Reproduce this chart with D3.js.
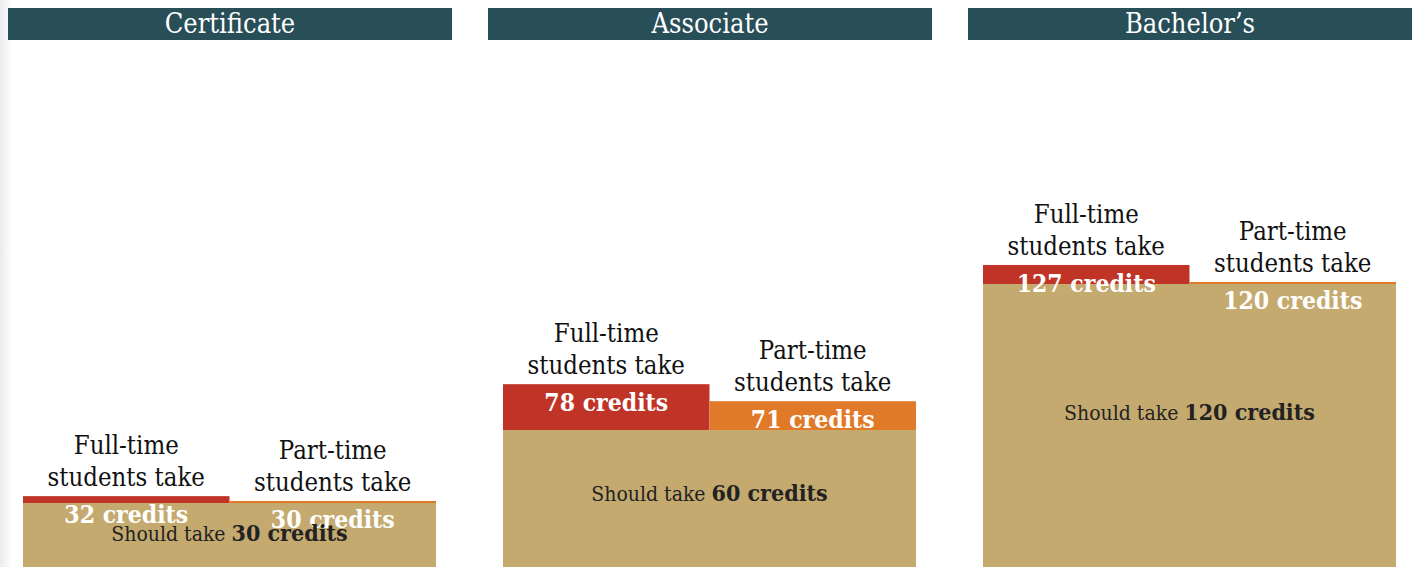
<!DOCTYPE html>
<html>
<head>
<meta charset="utf-8">
<script src="https://cdn.jsdelivr.net/npm/d3@7"></script>
<style>
  html, body { margin: 0; padding: 0; background: #fff; }
  svg { display: block; font-family: "DejaVu Serif Condensed", "DejaVu Serif", serif; }
</style>
</head>
<body>
<svg id="chart" width="1416" height="567"></svg>
<script>
// data
const degrees = ["Certificate", "Associate", "Bachelor’s"];
const shouldTake = [30, 60, 120];
const fullTime = [32, 78, 127];
const partTime = [30, 71, 120];
const groups = ["Full-time", "Part-time"];

const colors = { "Full-time": "#bf3426", "Part-time": "#e07a28", base: "#c4aa6f", header: "#284e58" };

const svg = d3.select("#chart");

// faint grey edge on the left
const grad = svg.append("defs").append("linearGradient").attr("id", "edge");
grad.append("stop").attr("offset", "0%").attr("stop-color", "#e9ecef");
grad.append("stop").attr("offset", "100%").attr("stop-color", "#fff");
svg.append("rect").attr("x", 0).attr("y", 0).attr("width", 12).attr("height", 567).attr("fill", "url(#edge)");

const x = d3.scaleBand().domain(degrees).range([8, 1412]).paddingInner(0.075);
const inner = d3.scaleBand().domain(groups).range([15, 428]);
const y = d3.scaleLinear().domain([0, 120]).range([574, 282]);

const rows = degrees.map((d, i) => ({
  degree: d,
  should: shouldTake[i],
  bars: [
    { group: "Full-time", value: fullTime[i] },
    { group: "Part-time", value: partTime[i] }
  ]
}));

const panel = svg.selectAll(".panel")
  .data(rows)
  .enter()
  .append("g")
  .attr("class", "panel")
  .attr("transform", d => `translate(${x(d.degree)},0)`);

// header
panel.append("rect")
  .attr("x", 0).attr("y", 8)
  .attr("width", x.bandwidth()).attr("height", 32)
  .attr("fill", colors.header);
panel.append("text")
  .attr("x", x.bandwidth() / 2).attr("y", 33)
  .attr("text-anchor", "middle")
  .attr("fill", "#fff")
  .attr("font-size", 27)
  .text(d => d.degree);

// full-time / part-time bars
panel.selectAll(".bar")
  .data(d => d.bars)
  .enter()
  .append("rect")
  .attr("class", "bar")
  .attr("x", d => inner(d.group))
  .attr("width", inner.bandwidth())
  .attr("y", d => y(d.value))
  .attr("height", d => y(0) - y(d.value))
  .attr("fill", d => colors[d.group]);

// base "should take" block
panel.append("rect")
  .attr("x", inner(groups[0]))
  .attr("width", inner.range()[1] - inner.range()[0])
  .attr("y", d => y(d.should) + 2)
  .attr("height", d => y(0) - y(d.should))
  .attr("fill", colors.base);

// labels above bars
const lab = panel.selectAll(".lab")
  .data(d => d.bars)
  .enter()
  .append("text")
  .attr("class", "lab")
  .attr("text-anchor", "middle")
  .attr("font-size", 25.5)
  .attr("fill", "#111");
lab.append("tspan")
  .attr("x", d => inner(d.group) + inner.bandwidth() / 2)
  .attr("y", d => y(d.value) - 42)
  .text(d => d.group);
lab.append("tspan")
  .attr("x", d => inner(d.group) + inner.bandwidth() / 2)
  .attr("y", d => y(d.value) - 10)
  .text("students take");

// values in bars
panel.selectAll(".val")
  .data(d => d.bars)
  .enter()
  .append("text")
  .attr("class", "val")
  .attr("text-anchor", "middle")
  .attr("x", d => inner(d.group) + inner.bandwidth() / 2)
  .attr("y", d => y(d.value) + 27)
  .attr("font-size", 24.5)
  .attr("font-weight", "bold")
  .attr("fill", "#fff")
  .text(d => d.value + " credits");

// should take label
const sh = panel.append("text")
  .attr("text-anchor", "middle")
  .attr("x", (inner.range()[0] + inner.range()[1]) / 2)
  .attr("y", d => y(d.should * 0.55) + 7)
  .attr("fill", "#222");
sh.append("tspan").attr("font-size", 21).text("Should take ");
sh.append("tspan").attr("font-size", 23).attr("font-weight", "bold").text(d => d.should + " credits");
</script>
</body>
</html>
